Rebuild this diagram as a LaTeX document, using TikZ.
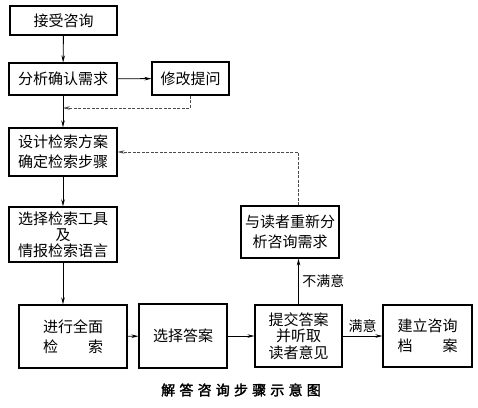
\documentclass[tikz,border=0pt]{standalone}
\usepackage{fontspec}
\setmainfont{Noto Sans CJK SC}
\newfontfamily\titlefont[LetterSpace=30,FakeBold=2]{Noto Sans CJK SC}
\usetikzlibrary{arrows.meta}

\begin{document}
\begin{tikzpicture}[x=1pt, y=-1pt,
  stepbox/.style={draw, line width=1.1pt, inner sep=0pt, align=center,
    font=\fontsize{15}{20}\selectfont},
  flow/.style={line width=0.9pt, -{Stealth[length=7pt,width=3.5pt]}},
  back/.style={flow, line width=0.6pt, dash pattern=on 3pt off 1.5pt, black!70}]
  \useasboundingbox (0,0) rectangle (478,407);
  % Left column: from the request to the search tools
  \node[stepbox, minimum width=107pt, minimum height=29pt] (accept) at (63.5,20.5) {接受咨询};
  \node[stepbox, minimum width=108pt, minimum height=32pt] (analyse) at (63,79) {分析确认需求};
  \node[stepbox, minimum width=77pt, minimum height=33pt] (revise) at (190.5,78.5) {修改提问};
  \node[stepbox, minimum width=108pt, minimum height=48pt] (design) at (63,152) {设计检索方案\\确定检索步骤};
  \node[stepbox, minimum width=108pt, minimum height=55pt,
    font=\fontsize{15}{16}\selectfont] (tools) at (63,234.5) {选择检索工具\\及\\情报检索语言};
  % Bottom row
  \node[stepbox, minimum width=108pt, minimum height=63pt] (search) at (73,336.5) {进行全面\\检\hspace{2em}索};
  \node[stepbox, minimum width=88pt, minimum height=64pt] (choose) at (183,336) {选择答案};
  \node[stepbox, minimum width=87pt, minimum height=62pt,
    font=\fontsize{15}{16.5}\selectfont] (submit) at (298.5,336) {提交答案\\并听取\\读者意见};
  \node[stepbox, minimum width=89pt, minimum height=62pt] (archive) at (427.5,336) {建立咨询\\档\hspace{2em}案};
  \node[stepbox, minimum width=98pt, minimum height=52pt] (again) at (290,232) {与读者重新分\\析咨询需求};
  % Connectors
  \draw[flow] (accept) -- (analyse);
  \draw[flow] (analyse) -- (revise);
  \draw[flow] (analyse) -- (design);
  \coordinate (rejoin) at (63,108);
  \draw[back] (revise.south) |- (rejoin);
  \draw[flow] (design) -- (tools);
  \draw[flow] (tools.south) -- (tools.south |- search.north);
  \draw[flow] (search) -- (choose);
  \draw[flow] (choose) -- (submit);
  \draw[flow] (submit) -- node[above, font=\fontsize{14}{16}\selectfont] (yes) {满意} (archive);
  \draw[flow] (submit.north) -- node[right, font=\fontsize{14}{16}\selectfont] (no) {不满意} (submit.north |- again.south);
  \draw[back] (submit.north |- again.north) |- (design.east);
  % Caption
  \node[font=\titlefont\fontsize{14}{16}\selectfont] (caption) at (241,390) {解答咨询步骤示意图};
\end{tikzpicture}
\end{document}
